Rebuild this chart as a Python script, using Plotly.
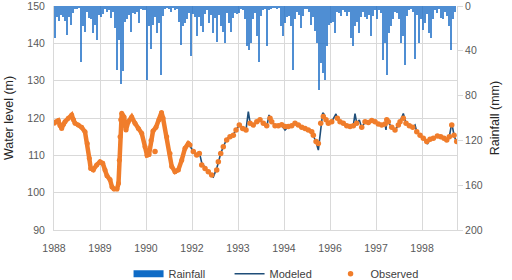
import plotly.graph_objects as go

# x axis: one unit per labelled grid step
tick_vals = [0, 1, 2, 3, 4, 5, 6, 7, 8]
tick_text = ["1988", "1989", "1990", "1992", "1993", "1994", "1996", "1997", "1998"]

# Rainfall (mm), regular sampling interval along the axis
rain_start = 0.0217
rain_interval = 0.04348
rain_mm = [29, 10, 13, 8, 10, 13, 26, 10, 17, 6, 3, 3, 2, 50, 18, 23, 5, 11, 12, 24,
           17, 30, 8, 10, 7, 3, 5, 4, 11, 5, 20, 57, 30, 70, 58, 14, 12, 8, 23, 6,
           7, 5, 15, 3, 4, 4, 66, 18, 38, 17, 10, 24, 15, 62, 9, 3, 2, 3, 5, 2,
           4, 3, 14, 35, 18, 15, 12, 6, 45, 7, 10, 27, 10, 18, 23, 7, 4, 15, 8, 24,
           11, 32, 8, 18, 23, 33, 6, 15, 23, 11, 6, 7, 6, 3, 4, 12, 36, 39, 33, 12,
           6, 27, 50, 9, 4, 3, 36, 4, 3, 2, 2, 3, 2, 18, 27, 15, 10, 9, 18, 57,
           12, 5, 8, 20, 9, 3, 3, 5, 17, 10, 22, 33, 75, 51, 60, 66, 36, 17, 15, 14,
           24, 5, 6, 9, 4, 5, 9, 5, 29, 36, 18, 14, 24, 10, 5, 10, 12, 8, 27, 9,
           4, 12, 4, 6, 48, 33, 62, 24, 18, 12, 5, 6, 12, 33, 27, 53, 9, 4, 3, 5,
           47, 8, 33, 12, 21, 15, 7, 24, 29, 12, 4, 6, 3, 11, 12, 5, 9, 18, 39, 12, 5]
rain_t = [rain_start + i * rain_interval for i in range(len(rain_mm))]

# Observed water level (m) - densely measured early period
obs_dense_t = [0.000, 0.043, 0.093, 0.130, 0.167, 0.207, 0.239, 0.311, 0.385, 0.424,
               0.457, 0.528, 0.602, 0.674, 0.724, 0.767, 0.798, 0.854, 0.928, 1.000,
               1.059, 1.109, 1.152, 1.217, 1.261, 1.304, 1.370, 1.402, 1.420, 1.435,
               1.450, 1.472, 1.522, 1.565, 1.615, 1.689, 1.761, 1.833, 1.907, 1.978,
               2.022, 2.065, 2.109, 2.152, 2.217, 2.283, 2.337, 2.370, 2.450, 2.522,
               2.559, 2.630, 2.702, 2.776, 2.848, 2.920, 2.957]
obs_dense_m = [118.6, 119.0, 119.3, 118.0, 117.2, 118.3, 119.0, 119.9, 120.8, 119.5,
               118.6, 118.1, 117.5, 116.3, 113.2, 109.2, 106.5, 106.1, 107.4, 108.3,
               107.9, 106.1, 104.5, 103.5, 101.5, 101.0, 101.0, 102.5, 108.7, 115.0,
               119.5, 121.3, 120.3, 116.8, 119.0, 120.3, 118.6, 117.2, 115.9, 112.3,
               110.0, 110.2, 114.0, 116.5, 117.5, 119.5, 121.5, 120.0, 115.0, 110.5,
               107.0, 105.6, 106.1, 108.7, 111.9, 113.2, 112.8]

# Observed water level (m) - sparse measurements
obs_t = [2.196, 3.028, 3.102, 3.159, 3.211, 3.283, 3.354, 3.428, 3.537, 3.572, 3.624,
         3.680, 3.754, 3.826, 3.898, 3.957, 4.028, 4.102, 4.174, 4.261, 4.333,
         4.407, 4.478, 4.550, 4.624, 4.696, 4.733, 4.804, 4.876, 4.950, 5.022,
         5.093, 5.167, 5.239, 5.311, 5.385, 5.457, 5.528, 5.602, 5.637, 5.696,
         5.746, 5.798, 5.854, 5.913, 5.963, 6.037, 6.159, 6.217, 6.289, 6.363,
         6.435, 6.507, 6.580, 6.689, 6.761, 6.833, 6.907, 6.978, 7.050, 7.124,
         7.196, 7.233, 7.267, 7.341, 7.413, 7.485, 7.522, 7.593, 7.652, 7.724,
         7.798, 7.885, 7.957, 8.028, 8.102, 8.174, 8.246, 8.333, 8.407, 8.478,
         8.537, 8.593, 8.646, 8.696, 8.754]
obs_m = [111.0, 111.0, 110.1, 110.5, 107.4, 106.5, 105.6, 104.7, 106.1, 108.3, 110.5,
         112.3, 114.1, 115.0, 115.4, 116.8, 118.1, 117.2, 116.8, 118.6, 118.1,
         119.0, 119.5, 118.6, 117.9, 119.9, 119.0, 117.9, 117.9, 118.2, 117.7,
         117.7, 117.9, 118.6, 118.1, 117.5, 117.2, 116.8, 116.3, 115.4, 113.7,
         113.2, 118.6, 120.4, 119.5, 118.6, 119.0, 119.9, 119.0, 118.6, 117.9,
         117.7, 117.9, 118.6, 117.5, 119.0, 118.8, 119.3, 119.0, 118.4, 118.1,
         118.4, 119.5, 119.0, 117.5, 116.8, 118.1, 119.0, 119.9, 118.6, 117.9,
         117.5, 116.3, 115.4, 114.6, 113.7, 114.3, 114.6, 115.2, 115.0, 114.6,
         114.1, 115.0, 118.1, 115.4, 113.7]

# Modeled water level (m)
mod_t = [2.848, 2.920, 2.957, 3.028, 3.102, 3.159, 3.211, 3.283, 3.354, 3.428, 3.463,
         3.537, 3.624, 3.680, 3.754, 3.826, 3.898, 3.957, 4.028, 4.102, 4.174,
         4.224, 4.261, 4.333, 4.407, 4.478, 4.550, 4.624, 4.674, 4.733, 4.804,
         4.876, 4.950, 5.022, 5.093, 5.167, 5.239, 5.311, 5.385, 5.457, 5.528,
         5.602, 5.637, 5.696, 5.746, 5.798, 5.841, 5.870, 5.913, 5.963, 6.037,
         6.130, 6.159, 6.217, 6.289, 6.363, 6.435, 6.507, 6.543, 6.580, 6.637,
         6.689, 6.761, 6.833, 6.907, 6.978, 7.050, 7.124, 7.196, 7.217, 7.233,
         7.267, 7.341, 7.413, 7.485, 7.522, 7.593, 7.652, 7.724, 7.798, 7.848,
         7.885, 7.957, 8.028, 8.102, 8.115, 8.174, 8.246, 8.333, 8.407, 8.478,
         8.537, 8.593, 8.646, 8.696, 8.754]
mod_m = [111.9, 113.0, 112.5, 111.0, 110.0, 110.8, 108.0, 106.5, 105.4, 104.5, 104.2,
         106.5, 110.5, 112.3, 114.3, 115.2, 115.6, 116.8, 118.1, 117.4, 116.8,
         121.7, 118.8, 118.1, 119.0, 119.5, 118.5, 117.6, 120.8, 119.2, 117.7,
         117.9, 118.0, 116.8, 117.7, 117.9, 118.8, 118.0, 117.4, 117.0, 116.6,
         116.0, 115.3, 113.5, 111.4, 117.5, 121.4, 121.0, 119.3, 118.4, 119.0,
         121.1, 119.8, 119.0, 118.6, 117.8, 117.5, 118.0, 121.2, 118.6, 119.5,
         117.3, 119.0, 118.7, 119.3, 119.0, 118.2, 118.1, 118.2, 116.8, 119.5,
         119.0, 117.3, 116.6, 118.0, 119.0, 121.2, 118.6, 117.9, 117.5, 118.1,
         116.3, 115.4, 114.6, 113.7, 113.0, 114.3, 114.6, 115.2, 115.0, 114.6,
         114.0, 115.0, 118.6, 115.4, 113.2]

RAIN_C = "#1468C4"
MOD_C = "#1F4E79"
OBS_C = "#F07D2B"
GRID_C = "#D9D9D9"
FONT = "Liberation Sans"

fig = go.Figure()

fig.add_trace(go.Bar(x=rain_t, y=rain_mm, width=0.015, yaxis="y2",
                     marker=dict(color=RAIN_C, opacity=0.75, line=dict(width=0)),
                     name="Rainfall", showlegend=False))
# legend swatch for rainfall (wide bar look)
fig.add_trace(go.Scatter(x=[None], y=[None], mode="lines", name="Rainfall",
                         line=dict(color="#0F6BC6", width=7)))
fig.add_trace(go.Scatter(x=mod_t, y=mod_m, mode="lines", name="Modeled",
                         line=dict(color=MOD_C, width=1.6)))
fig.add_trace(go.Scatter(x=obs_dense_t, y=obs_dense_m, mode="lines+markers",
                         line=dict(color=OBS_C, width=4.5, shape="linear"),
                         marker=dict(color=OBS_C, size=5),
                         name="Observed", showlegend=False))
fig.add_trace(go.Scatter(x=obs_t, y=obs_m, mode="markers", name="Observed",
                         marker=dict(color=OBS_C, size=5.5)))

fig.update_layout(
    width=512, height=280,
    margin=dict(l=54, r=55, t=6, b=50, autoexpand=False),
    paper_bgcolor="white", plot_bgcolor="white",
    font=dict(family=FONT, size=10.5, color="#595959"),
    bargap=0,
    legend=dict(orientation="h", x=0.185, xanchor="left", y=-0.195, yanchor="middle",
                font=dict(family=FONT, size=11, color="#404040"),
                entrywidth=56, itemwidth=30, traceorder="normal",
                bgcolor="rgba(0,0,0,0)"),
    xaxis=dict(range=[0, 8.76], tickvals=tick_vals, ticktext=tick_text,
               showgrid=True, gridcolor=GRID_C, gridwidth=1, automargin=False,
               showline=True, linecolor=GRID_C, linewidth=1,
               ticks="", zeroline=False, ticklabelstandoff=8,
               ticklabeloverflow="allow"),
    yaxis=dict(range=[90, 150], dtick=10, showgrid=True, gridcolor=GRID_C,
               showline=True, linecolor=GRID_C, zeroline=False, ticks="",
               ticklabelstandoff=6, automargin=False, ticklabeloverflow="allow",
               title=dict(text="Water level (m)", standoff=10,
                          font=dict(family=FONT, size=12.5, color="#262626"))),
    yaxis2=dict(range=[200, 0], tickvals=[0, 40, 80, 120, 160, 200],
                overlaying="y", side="right", showgrid=False, zeroline=False,
                showline=True, linecolor=GRID_C, ticks="outside", ticklen=5,
                tickcolor=GRID_C, automargin=False, ticklabeloverflow="allow",
                title=dict(text="Rainfall (mm)", standoff=8,
                           font=dict(family=FONT, size=12.5, color="#262626"))),
)

fig.write_html("out.html", post_script="document.body.style.margin='0';",
               config={"displayModeBar": False})
